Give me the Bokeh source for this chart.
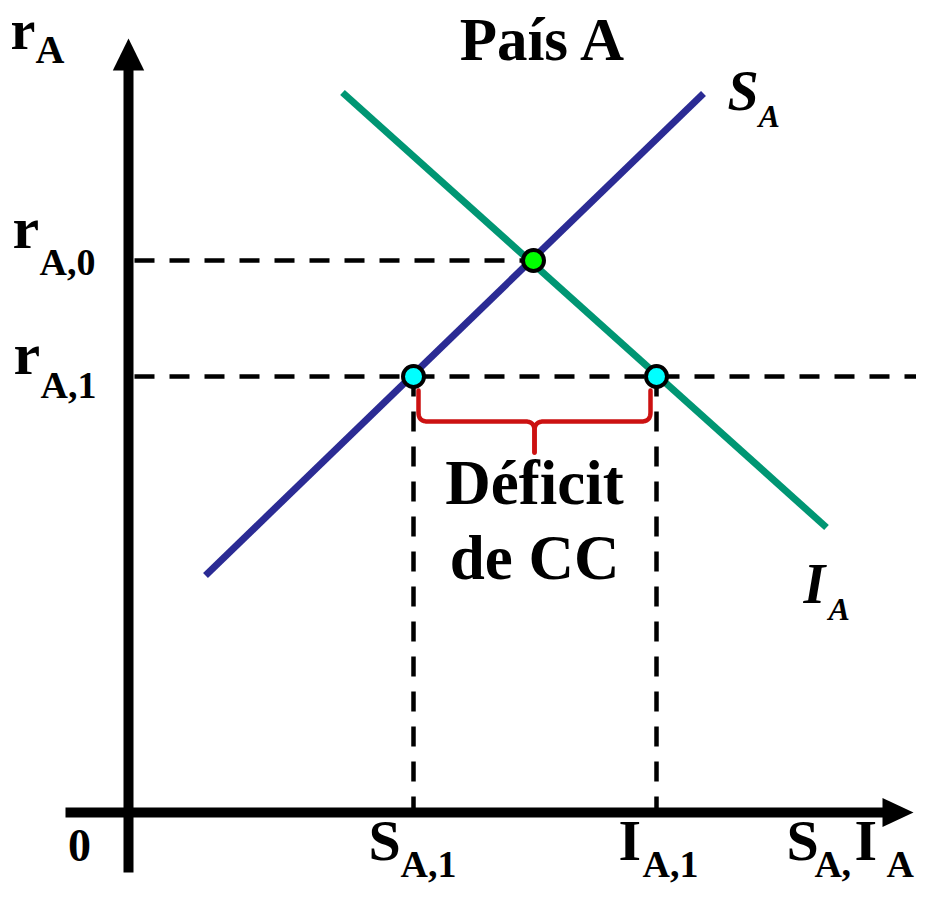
import numpy as np
from bokeh.plotting import figure
from bokeh.models import Range1d
from bokeh.core.properties import value
from bokeh.embed import file_html
from bokeh.resources import INLINE

# ---- data (economic units; origin at 0,0) ----
S_curve_x = [7.7, 57.5]
S_curve_y = [23.7, 71.9]
I_curve_x = [21.4, 69.8]
I_curve_y = [72.0, 28.5]
eq_x = 40.5          # equilibrium (autarky) saving/investment
r_A0 = 55.2          # r_A,0
r_A1 = 43.6          # r_A,1
S_A1 = 28.5          # S_A,1
I_A1 = 52.8          # I_A,1

FONT = value("Liberation Serif")
BLUE = "#2B2B94"
GREEN = "#009673"
RED = "#CC1111"

p = figure(width=916, height=884, x_range=Range1d(-12.8, 78.8), y_range=Range1d(-7.2, 81.2),
           output_backend="svg", toolbar_location=None, min_border=0,
           x_axis_type=None, y_axis_type=None, outline_line_color=None)
p.grid.visible = False

# ---- axes with arrows ----
p.segment(x0=[0], y0=[-6.0], x1=[0], y1=[74.6], line_color="black", line_width=10, line_cap="butt")
p.patch(x=[-1.57, 1.57, 0], y=[74.2, 74.2, 77.4], color="black", line_width=0)
p.segment(x0=[-6.3], y0=[0], x1=[75.8], y1=[0], line_color="black", line_width=10, line_cap="butt")
p.patch(x=[75.4, 75.4, 78.5], y=[1.45, -1.45, 0], color="black", line_width=0)

# ---- dashed guide lines ----
dash = dict(line_color="black", line_width=4.5, line_dash="20 15")
p.line(x=[0.6, eq_x], y=[r_A0, r_A0], **dash)
p.line(x=[0.6, 79.0], y=[r_A1, r_A1], **dash)
p.line(x=[S_A1, S_A1], y=[r_A1, 0.4], **dash)
p.line(x=[I_A1, I_A1], y=[r_A1, 0.4], **dash)

# ---- curves ----
p.line(x=S_curve_x, y=S_curve_y, line_color=BLUE, line_width=7)
p.line(x=I_curve_x, y=I_curve_y, line_color=GREEN, line_width=7)

# ---- brace (Déficit de CC) ----
def qbez(p0, p1, p2, n=10):
    t = np.linspace(0, 1, n)[:, None]
    p0, p1, p2 = map(np.array, (p0, p1, p2))
    pts = (1 - t) ** 2 * p0 + 2 * (1 - t) * t * p1 + t ** 2 * p2
    return pts[:, 0].tolist(), pts[:, 1].tolist()

L = S_A1 + 0.5
R = I_A1 - 0.6
C = (L + R) / 2
top = r_A1 - 1.4
h = r_A1 - 4.5
tip = r_A1 - 7.6
rr = 0.9

def half(xe, sgn):
    xs, ys = [xe, xe], [top, h + rr]
    bx, by = qbez((xe, h + rr), (xe, h), (xe + sgn * rr, h))
    xs += bx; ys += by
    xs += [C - sgn * rr]; ys += [h]
    bx, by = qbez((C - sgn * rr, h), (C, h), (C, h - rr))
    xs += bx; ys += by
    xs += [C]; ys += [tip]
    return xs, ys

lx, ly = half(L, 1)
rx, ry = half(R, -1)
p.multi_line(xs=[lx, rx], ys=[ly, ry], line_color=RED, line_width=4.5, line_join="round", line_cap="round")

# ---- points ----
p.scatter(x=[eq_x], y=[r_A0], size=21, fill_color="#00FF00", line_color="black", line_width=4)
p.scatter(x=[S_A1, I_A1], y=[r_A1, r_A1], size=21, fill_color="#00FFFF", line_color="black", line_width=4)

# ---- texts ----
def txt(x, y, s, size, style="bold", align="left"):
    # y is the intended baseline; compensate the renderer's baseline offset
    yy = y + 0.039 * size
    p.text(x=[x], y=[yy], text=[s], text_font=FONT, text_font_size=value(f"{size}px"),
           text_font_style=style, text_align=align, text_baseline="alphabetic", text_color="black")

txt(41.5, 74.9, "País A", 61, align="center")
# r_A (axis title)
txt(-11.8, 76.1, "r", 56)
txt(-9.3, 74.7, "A", 40)
# r_A,0 and r_A,1
txt(-11.6, r_A0 + 0.9, "r", 60)
txt(-8.9, r_A0 - 1.6, "A,0", 38)
txt(-11.5, r_A1 - 0.1, "r", 60)
txt(-8.8, r_A1 - 2.3, "A,1", 38)
# origin
txt(-4.9, -5.1, "0", 46, align="center")
# S_A,1 and I_A,1
txt(S_A1 - 4.5, -5.1, "S", 58)
txt(S_A1 - 1.3, -6.6, "A,1", 38)
txt(I_A1 - 3.8, -5.1, "I", 58)
txt(I_A1 - 1.4, -6.6, "A,1", 38)
# S_A,I_A (x-axis title)
txt(65.8, -5.1, "S", 58)
txt(68.6, -6.6, "A", 38)
txt(71.3, -6.6, ",", 38)
txt(72.6, -5.1, "I", 58)
txt(75.8, -6.6, "A", 38)
# curve labels
txt(59.9, 70.0, "S", 56, style="bold italic")
txt(63.0, 68.4, "A", 32, style="bold italic")
txt(67.5, 20.7, "I", 56, style="bold italic")
txt(70.0, 19.1, "A", 32, style="bold italic")
# deficit label
txt(C, 30.5, "Déficit", 63, align="center")
txt(C, 23.0, "de CC", 63, align="center")

open("out.html", "w").write(file_html(p, INLINE))
